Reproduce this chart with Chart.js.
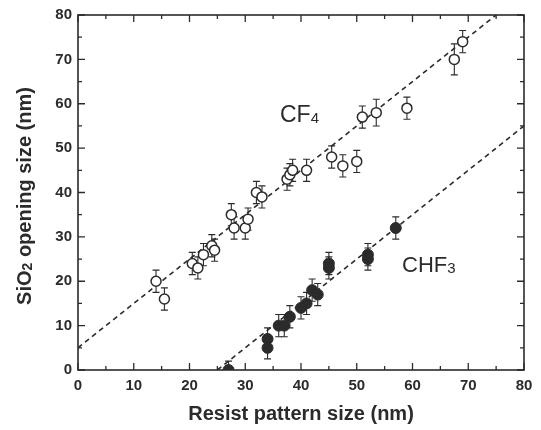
<!DOCTYPE html>
<html lang="en">
<head>
<meta charset="UTF-8">
<title>SiO2 opening size vs resist pattern size</title>
<script src="https://cdn.jsdelivr.net/npm/chart.js@4.4.0/dist/chart.umd.min.js"></script>
<style>
  body { margin: 0; background: #fff; }
  #wrap { width: 541px; height: 430px; }
</style>
</head>
<body>
<div id="wrap"><canvas id="chart" width="541" height="430"></canvas></div>
<script>
// values, all in nm
const cf4X   = [14, 15.5, 20.5, 21.5, 22.5, 24, 24.5, 27.5, 28, 30, 30.5, 32, 33, 37.5, 38, 38.5, 41, 45.5, 47.5, 50, 51, 53.5, 59, 67.5, 69];
const cf4Y   = [20, 16, 24, 23, 26, 28, 27, 35, 32, 32, 34, 40, 39, 43, 44, 45, 45, 48, 46, 47, 57, 58, 59, 70, 74];
const cf4Err = [2.5, 2.5, 2.5, 2.5, 2.5, 2.5, 2.5, 2.5, 2.5, 2.5, 2.5, 2.5, 2.5, 2.5, 2.5, 2.5, 2.5, 2.5, 2.5, 2.5, 2.5, 3, 2.5, 3.5, 2.5];

const chf3X   = [27, 34, 34, 36, 37, 38, 40, 41, 42, 43, 45, 45, 52, 52, 57];
const chf3Y   = [0, 5, 7, 10, 10, 12, 14, 15, 18, 17, 24, 23, 26, 25, 32];
const chf3Err = [2, 2.5, 2.5, 2.5, 2.5, 2.5, 2.5, 2.5, 2.5, 2.5, 2.5, 2.5, 2.5, 2.5, 2.5];

// dashed fit lines (end points in data units)
const cf4FitX  = [0, 75];
const cf4FitY  = [5, 80];
const chf3FitX = [25, 80];
const chf3FitY = [0, 55];

const xTickValues = [0, 10, 20, 30, 40, 50, 60, 70, 80];
const yTickValues = [0, 10, 20, 30, 40, 50, 60, 70, 80];

const INK = '#2b2b2b';
const FONT = '"Liberation Sans", Arial, sans-serif';

const pts = (xs, ys) => xs.map((v, i) => ({ x: v, y: ys[i] }));

// draw "main" + smaller subscript pieces one after another
function richText(ctx, parts, x, y) {
    let cx = x;
    parts.forEach(p => {
        ctx.font = p.font;
        ctx.fillText(p.text, cx, y + (p.dy || 0));
        cx += ctx.measureText(p.text).width;
    });
}
function richWidth(ctx, parts) {
    let w = 0;
    parts.forEach(p => { ctx.font = p.font; w += ctx.measureText(p.text).width; });
    return w;
}

const figurePlugin = {
    id: 'figure',
    beforeDatasetsDraw(chart) {
        // error bars under the markers
        const { ctx, chartArea: a, scales: { x, y } } = chart;
        ctx.save();
        ctx.beginPath();
        ctx.rect(a.left, a.top, a.right - a.left, a.bottom - a.top);
        ctx.clip();
        ctx.strokeStyle = INK;
        ctx.lineWidth = 1.1;
        chart.data.datasets.forEach(ds => {
            if (!ds.errors) return;
            ds.data.forEach((p, i) => {
                const e = ds.errors[i];
                const px = x.getPixelForValue(p.x);
                const top = y.getPixelForValue(p.y + e);
                const bot = y.getPixelForValue(p.y - e);
                ctx.beginPath();
                ctx.moveTo(px, top); ctx.lineTo(px, bot);
                ctx.moveTo(px - 3.5, top); ctx.lineTo(px + 3.5, top);
                ctx.moveTo(px - 3.5, bot); ctx.lineTo(px + 3.5, bot);
                ctx.stroke();
            });
        });
        ctx.restore();
    },
    afterDraw(chart) {
        const { ctx, chartArea: a, scales: { x, y } } = chart;
        ctx.save();
        ctx.strokeStyle = INK;
        ctx.fillStyle = INK;

        // frame
        ctx.lineWidth = 1.6;
        ctx.strokeRect(a.left, a.top, a.right - a.left, a.bottom - a.top);

        // inward ticks on all four sides, minor every 5
        ctx.lineWidth = 1.3;
        ctx.beginPath();
        for (let v = 0; v <= 80; v += 5) {
            const len = v % 10 === 0 ? 7 : 4;
            const px = x.getPixelForValue(v);
            ctx.moveTo(px, a.bottom); ctx.lineTo(px, a.bottom - len);
            ctx.moveTo(px, a.top); ctx.lineTo(px, a.top + len);
            const py = y.getPixelForValue(v);
            ctx.moveTo(a.left, py); ctx.lineTo(a.left + len, py);
            ctx.moveTo(a.right, py); ctx.lineTo(a.right - len, py);
        }
        ctx.stroke();

        // series labels
        ctx.textBaseline = 'alphabetic';
        ctx.textAlign = 'left';
        richText(ctx, [
            { text: 'CF', font: '23px ' + FONT },
            { text: '4', font: '15px ' + FONT, dy: 1 }
        ], 280, 122);
        richText(ctx, [
            { text: 'CHF', font: '22px ' + FONT },
            { text: '3', font: '15px ' + FONT, dy: 1 }
        ], 402, 272);

        // axis titles
        ctx.textAlign = 'center';
        ctx.font = 'bold 20px ' + FONT;
        ctx.fillText('Resist pattern size (nm)', (a.left + a.right) / 2, 420);

        const yParts = [
            { text: 'SiO', font: 'bold 20px ' + FONT },
            { text: '2', font: 'bold 14px ' + FONT, dy: 1 },
            { text: ' opening size (nm)', font: 'bold 20px ' + FONT }
        ];
        ctx.translate(31, 196);
        ctx.rotate(-Math.PI / 2);
        ctx.textAlign = 'left';
        richText(ctx, yParts, -richWidth(ctx, yParts) / 2, 0);
        ctx.restore();
    }
};

new Chart(document.getElementById('chart'), {
    type: 'scatter',
    data: {
        datasets: [
            {
                label: 'CF4',
                data: pts(cf4X, cf4Y),
                errors: cf4Err,
                pointRadius: 5,
                pointBorderWidth: 1.5,
                borderColor: INK,
                backgroundColor: '#fff',
                order: 1
            },
            {
                label: 'CHF3',
                data: pts(chf3X, chf3Y),
                errors: chf3Err,
                pointRadius: 5.5,
                pointBorderWidth: 1,
                borderColor: INK,
                backgroundColor: INK,
                order: 1
            },
            {
                label: 'CF4 fit',
                data: pts(cf4FitX, cf4FitY),
                showLine: true,
                pointRadius: 0,
                borderColor: INK,
                borderWidth: 1.6,
                borderDash: [5, 4],
                order: 2
            },
            {
                label: 'CHF3 fit',
                data: pts(chf3FitX, chf3FitY),
                showLine: true,
                pointRadius: 0,
                borderColor: INK,
                borderWidth: 1.6,
                borderDash: [5, 4],
                order: 2
            }
        ]
    },
    options: {
        responsive: false,
        animation: false,
        layout: { padding: { top: 15, right: 17, left: 0, bottom: 0 } },
        plugins: {
            legend: { display: false },
            tooltip: { enabled: false }
        },
        scales: {
            x: {
                type: 'linear',
                min: 0, max: 80,
                afterBuildTicks: s => { s.ticks = xTickValues.map(v => ({ value: v })); },
                afterFit: s => { s.height = 60; },
                grid: { display: false, drawTicks: false },
                border: { display: false },
                ticks: {
                    padding: 7,
                    maxRotation: 0,
                    color: INK,
                    font: { family: FONT, size: 15, weight: 'bold' }
                }
            },
            y: {
                type: 'linear',
                min: 0, max: 80,
                afterBuildTicks: s => { s.ticks = yTickValues.map(v => ({ value: v })); },
                afterFit: s => { s.width = 78; },
                grid: { display: false, drawTicks: false },
                border: { display: false },
                ticks: {
                    padding: 6,
                    color: INK,
                    font: { family: FONT, size: 15, weight: 'bold' }
                }
            }
        }
    },
    plugins: [figurePlugin]
});
</script>
</body>
</html>
